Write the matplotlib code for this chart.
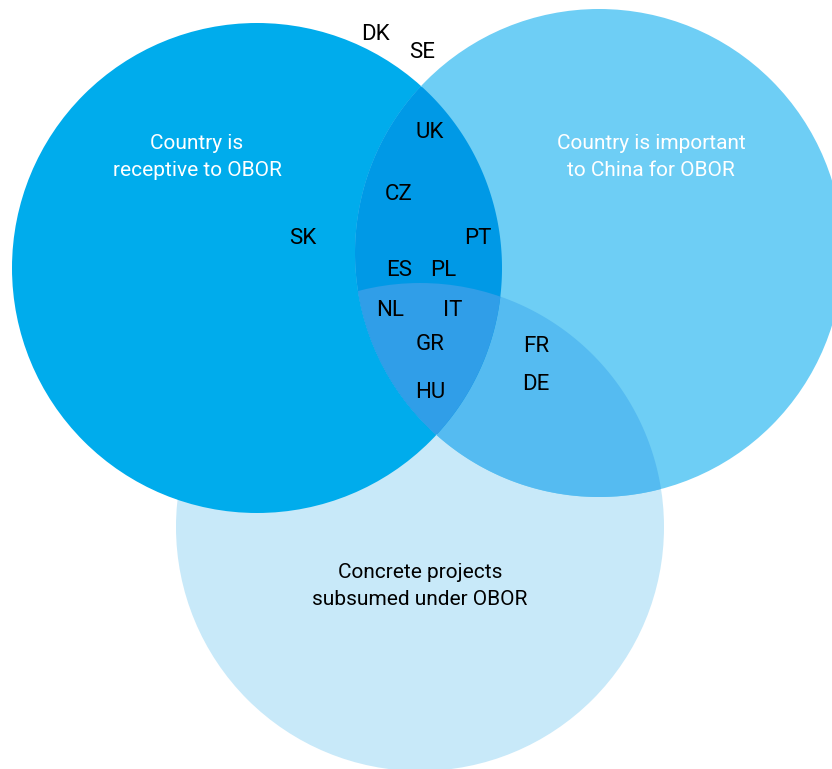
import numpy as np
import matplotlib.pyplot as plt
from matplotlib.patches import Circle, Polygon

plt.rcParams['font.family'] = ['Roboto', 'DejaVu Sans']

# the three sets
set_names = ['Country is\nreceptive to OBOR',
             'Country is important\nto China for OBOR',
             'Concrete projects\nsubsumed under OBOR']

# countries and the region they sit in
countries = ['DK', 'SE', 'UK', 'CZ', 'PT', 'SK', 'ES', 'PL',
             'NL', 'IT', 'GR', 'HU', 'FR', 'DE']
regions = ['none', 'none', 'AB', 'AB', 'AB', 'A', 'AB', 'AB',
           'ABC', 'ABC', 'ABC', 'ABC', 'BC', 'BC']

# where the labels go (pixel coords)
label_pos = {
    'DK': (375, 32), 'SE': (422, 50), 'UK': (430, 131), 'CZ': (399, 193),
    'PT': (478, 237), 'SK': (303, 237), 'ES': (399, 269), 'PL': (443, 269),
    'NL': (390, 308), 'IT': (453, 308), 'GR': (430, 342), 'HU': (430, 390),
    'FR': (536, 345), 'DE': (536, 382),
}

# circle geometry: centre x, centre y, radius
circ_A = (257, 268, 245)
circ_B = (599, 253, 244)
circ_C = (420, 527, 244)

col_A = '#00acec'
col_B = '#6ecef5'
col_C = '#c8e9f9'
col_AB = '#0099e6'
col_BC = '#55bbf1'
col_ABC = '#309ee8'

W, H = 832, 769
fig = plt.figure(figsize=(W / 100, H / 100), dpi=100)
ax = fig.add_axes([0, 0, 1, 1])
ax.set_xlim(0, W)
ax.set_ylim(H, 0)
ax.set_aspect('equal')
ax.axis('off')


def circle_pts(c, n=720):
    t = np.linspace(0, 2 * np.pi, n, endpoint=False)
    return np.column_stack([c[0] + c[2] * np.cos(t), c[1] + c[2] * np.sin(t)])


def inside(pts, c):
    return np.hypot(pts[:, 0] - c[0], pts[:, 1] - c[1]) <= c[2] + 1e-9


def lens(c1, c2):
    # polygon of two circles' overlap
    p1 = circle_pts(c1)
    p2 = circle_pts(c2)
    pts = np.vstack([p1[inside(p1, c2)], p2[inside(p2, c1)]])
    cen = pts.mean(axis=0)
    ang = np.arctan2(pts[:, 1] - cen[1], pts[:, 0] - cen[0])
    return pts[np.argsort(ang)]


ax.add_patch(Circle(circ_C[:2], circ_C[2], color=col_C, lw=0))
ax.add_patch(Circle(circ_A[:2], circ_A[2], color=col_A, lw=0))
ax.add_patch(Circle(circ_B[:2], circ_B[2], color=col_B, lw=0))
ax.add_patch(Polygon(lens(circ_B, circ_C), color=col_BC, lw=0))
ax.add_patch(Polygon(lens(circ_A, circ_B), color=col_AB, lw=0))

# triple overlap: A∩B lens clipped by C
tri = Polygon(lens(circ_A, circ_B), color=col_ABC, lw=0)
ax.add_patch(tri)
clipC = Circle(circ_C[:2], circ_C[2], transform=ax.transData)
tri.set_clip_path(clipC)

ax.text(197, 157, set_names[0], color='white', fontsize=15,
        ha='center', va='center', linespacing=1.5)
ax.text(651, 157, set_names[1], color='white', fontsize=15,
        ha='center', va='center', linespacing=1.5)
ax.text(420, 586, set_names[2], color='black', fontsize=15,
        ha='center', va='center', linespacing=1.5)

for c in countries:
    x, y = label_pos[c]
    ax.text(x, y + 2, c, color='black', fontsize=16, ha='center', va='center')

fig.savefig('out.png', dpi=100)
